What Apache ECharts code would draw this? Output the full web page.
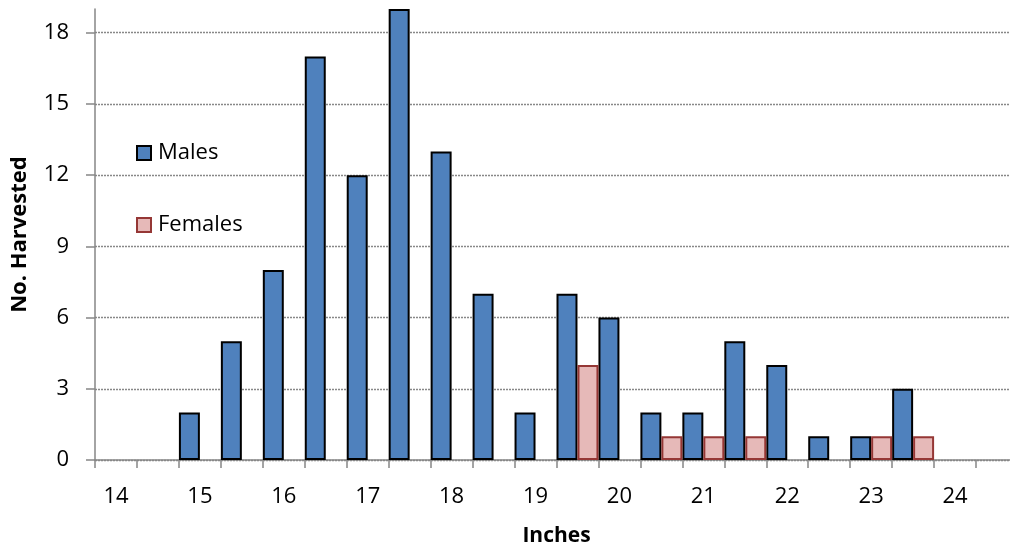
<!DOCTYPE html>
<html>
<head>
<meta charset="utf-8">
<script src="https://cdn.jsdelivr.net/npm/echarts@6/dist/echarts.min.js"></script>
<style>
html,body{margin:0;padding:0;background:#fff;overflow:hidden;width:1010px;height:552px;}
#chart{width:1018px;height:552px;}
</style>
</head>
<body>
<div id="chart"></div>
<script>
const categories = ['14','14.5','15','15.5','16','16.5','17','17.5','18','18.5','19','19.5','20','20.5','21','21.5','22','22.5','23','23.5','24','24.5'];
const males   = [0,0,2,5,8,17,12,19,13,7,2,7,6,2,2,5,4,1,1,3,0,0];
const females = [0,0,0,0,0,0,0,0,0,0,0,4,0,1,1,1,0,0,1,1,0,0];
const yTicks = [0,3,6,9,12,15,18];

const FONT = 'Open Sans';
const chart = echarts.init(document.getElementById('chart'), null, {renderer:'canvas'});
const noZero = arr => arr.map(v => v === 0 ? null : v);

chart.setOption({
  animation:false,
  textStyle:{fontFamily:FONT},
  grid:{left:95, top:9, right:0, bottom:90},
  legend:{
    orient:'vertical', left:136, top:142, padding:0,
    icon:'rect',
    itemWidth:14, itemHeight:14, itemGap:50,
    textStyle:{fontFamily:FONT, fontSize:22, color:'#000', lineHeight:22, padding:[0,0,0,2]},
    data:['Males','Females']
  },
  xAxis:{
    type:'category', data:categories,
    name:'Inches', nameLocation:'middle', nameGap:66,
    nameTextStyle:{fontFamily:FONT, fontSize:21, fontWeight:'bold', color:'#000'},
    axisLine:{lineStyle:{color:'#868686', width:1.5}},
    axisTick:{show:true, interval:0, length:8, lineStyle:{color:'#868686', width:1.5}},
    axisLabel:{interval:1, margin:26, fontSize:22, color:'#000', fontFamily:FONT,
      formatter: v => v},
    splitLine:{show:false}
  },
  yAxis:{
    type:'value', min:0, max:19, interval:3,
    name:'No. Harvested', nameLocation:'middle', nameGap:64, nameRotate:90,
    nameTextStyle:{fontFamily:FONT, fontSize:22, fontWeight:'bold', color:'#000'},
    axisLine:{show:true, lineStyle:{color:'#868686', width:1.5}},
    axisTick:{show:true, length:9, lineStyle:{color:'#868686', width:1.5}},
    axisLabel:{margin:26, fontSize:22, color:'#000', fontFamily:FONT, showMaxLabel:false,
      formatter: v => yTicks.includes(v) ? String(v) : ''},
    splitLine:{show:true, showMaxLine:false, lineStyle:{color:'#888', type:[2,1], width:1.3}}
  },
  series:[
    {name:'Males', type:'bar', data:noZero(males), barWidth:'50%', barGap:'0%',
      itemStyle:{color:'#4F81BD', borderColor:'#000', borderWidth:2}},
    {name:'Females', type:'bar', data:noZero(females), barWidth:'50%', barGap:'0%',
      itemStyle:{color:'#E6B9B8', borderColor:'#953735', borderWidth:2}}
  ]
});
</script>
</body>
</html>
